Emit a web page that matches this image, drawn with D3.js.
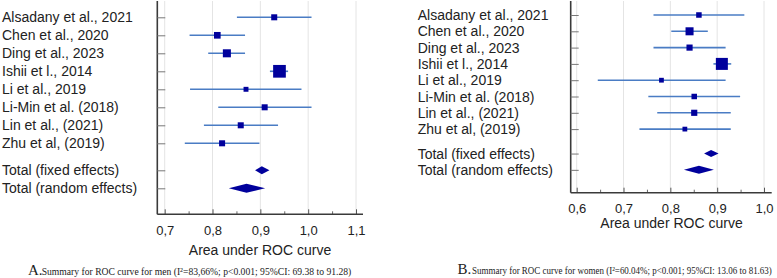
<!DOCTYPE html>
<html><head><meta charset="utf-8">
<script src="https://cdn.jsdelivr.net/npm/d3@7"></script>
<style>
html,body{margin:0;padding:0;background:#fff;}
svg{display:block;}
</style></head>
<body>
<svg id="chart" width="777" height="278"></svg>
<script>
// ---- data ----
const studies = ["Alsadany et al., 2021","Chen et al., 2020","Ding et al., 2023","Ishii et l., 2014","Li et al., 2019","Li-Min et al. (2018)","Lin et al., (2021)","Zhu et al, (2019)"];
const totals = ["Total (fixed effects)","Total (random effects)"];

const menAUC   = [0.929,0.810,0.830,0.940,0.870,0.909,0.859,0.820];
const menLow   = [0.851,0.752,0.791,0.920,0.753,0.812,0.782,0.742];
const menHigh  = [1.007,0.868,0.868,0.958,0.986,1.007,0.937,0.898];
const menWeight= [9,11,16,40,6,9,9,9];
const menTotAUC = [0.903,0.871];
const menTotLow = [0.889,0.834];
const menTotHigh= [0.919,0.910];
const menTicks = [0.7,0.8,0.9,1.0,1.1];

const womenAUC   = [0.861,0.841,0.841,0.910,0.781,0.851,0.851,0.831];
const womenLow   = [0.764,0.802,0.764,0.892,0.645,0.753,0.772,0.734];
const womenHigh  = [0.958,0.880,0.918,0.930,0.918,0.949,0.929,0.929];
const womenWeight= [8,17,10,38,6,8,10,6];
const womenTotAUC = [0.887,0.861];
const womenTotLow = [0.872,0.829];
const womenTotHigh= [0.903,0.893];
const womenTicks = [0.6,0.7,0.8,0.9,1.0];

const captionA = "Summary for ROC curve for men (I\u00B2=83,66%; p<0.001; 95%CI: 69.38 to 91.28)";
const captionB = "Summary for ROC curve for women (I\u00B2=60.04%; p<0.001; 95%CI: 13.06 to 81.63)";
const axisTitle = "Area under ROC curve";

// ---- drawing ----
const svg = d3.select("#chart");
const fmt = d => d.toFixed(1).replace(".", ",");
const lineColor = "#4a7cc4", markColor = "#00009c", axisColor = "#3a3a3a";

function panel(cfg){
  const g = svg.append("g");
  const x = d3.scaleLinear().domain([cfg.ticks[0], cfg.ticks[cfg.ticks.length-1]]).range(cfg.xRange);
  const rowPos = studies.map((d,i)=>i).concat([studies.length+0.5, studies.length+1.5]);
  const y = d3.scaleLinear().domain([0,1]).range([cfg.y0, cfg.y0+cfg.step]);
  const size = d3.scaleSqrt().domain([0, d3.max(cfg.weight)]).range([0, cfg.maxSize]);

  // grid
  g.selectAll(".grid").data(cfg.ticks).join("line")
    .attr("x1", d=>x(d)).attr("x2", d=>x(d))
    .attr("y1", cfg.top).attr("y2", cfg.bottom)
    .attr("stroke", "#e4e4e4").attr("stroke-width", 1);

  // x axis (major)
  const ax = g.append("g").attr("transform", `translate(0,${cfg.bottom})`)
    .call(d3.axisBottom(x).tickValues(cfg.ticks).tickFormat(fmt).tickSizeInner(-5).tickSizeOuter(0).tickPadding(11));
  ax.select(".domain").remove();
  ax.selectAll(".tick line").attr("stroke", "#555");
  ax.selectAll("text").attr("font-family","Liberation Sans, Arial, sans-serif").attr("font-size", 13).attr("fill","#222");
  // minor ticks
  const minor = cfg.ticks.slice(0,-1).map(t => t + 0.05);
  const mx = g.append("g").attr("transform", `translate(0,${cfg.bottom})`)
    .call(d3.axisBottom(x).tickValues(minor).tickFormat("").tickSizeInner(-3).tickSizeOuter(0));
  mx.select(".domain").remove();
  mx.selectAll(".tick line").attr("stroke", "#666");

  // axis lines
  g.append("line").attr("x1", cfg.axisX).attr("x2", cfg.axisEnd).attr("y1", cfg.bottom).attr("y2", cfg.bottom)
    .attr("stroke", axisColor).attr("stroke-width", 1.6);
  g.append("line").attr("x1", cfg.axisX).attr("x2", cfg.axisX).attr("y1", cfg.top).attr("y2", cfg.bottom)
    .attr("stroke", axisColor).attr("stroke-width", 1.6);

  // y axis ticks
  const ya = g.append("g").attr("transform", `translate(${cfg.axisX},0)`)
    .call(d3.axisLeft(y).tickValues(rowPos).tickFormat("").tickSizeInner(-8).tickSizeOuter(0));
  ya.select(".domain").remove();
  ya.selectAll(".tick line").attr("stroke", "#777");

  // labels
  const labels = studies.concat(totals);
  g.selectAll(".lab").data(labels).join("text")
    .attr("x", cfg.labelX).attr("y", (d,i)=>y(rowPos[i])).attr("dy","0.36em")
    .attr("font-family","Liberation Sans, Arial, sans-serif").attr("font-size",14).attr("fill","#222")
    .text(d=>d);

  // CI lines
  g.selectAll(".ci").data(studies).join("line")
    .attr("x1",(d,i)=>x(cfg.low[i])).attr("x2",(d,i)=>x(cfg.high[i]))
    .attr("y1",(d,i)=>y(i)).attr("y2",(d,i)=>y(i))
    .attr("stroke", lineColor).attr("stroke-width", 1.6);
  // squares
  g.selectAll(".sq").data(studies).join("rect")
    .attr("x",(d,i)=>x(cfg.auc[i]) - size(cfg.weight[i])/2)
    .attr("y",(d,i)=>y(i) - size(cfg.weight[i])/2)
    .attr("width",(d,i)=>size(cfg.weight[i]))
    .attr("height",(d,i)=>size(cfg.weight[i]))
    .attr("fill", markColor);
  // diamonds
  g.selectAll(".dia").data(totals).join("path")
    .attr("d",(d,i)=>{
      const yy = y(rowPos[studies.length+i]);
      const h = cfg.diaH[i]/2;
      return `M${x(cfg.totLow[i])},${yy}L${x(cfg.totAUC[i])},${yy-h}L${x(cfg.totHigh[i])},${yy}L${x(cfg.totAUC[i])},${yy+h}Z`;
    })
    .attr("fill", markColor);

  // axis title
  g.append("text").attr("x", cfg.titleX).attr("y", cfg.titleY).attr("text-anchor","middle")
    .attr("font-family","Liberation Sans, Arial, sans-serif").attr("font-size",14).attr("fill","#222")
    .text(axisTitle);

  // caption
  g.append("text").attr("x", cfg.capX).attr("y", cfg.capY)
    .attr("font-family","Liberation Serif, Times New Roman, serif").attr("font-size",15).attr("fill","#222")
    .text(cfg.capLetter);
  const ct = g.append("text").attr("x", 0).attr("y", 0)
    .attr("font-family","Liberation Serif, Times New Roman, serif").attr("font-size",10.5).attr("fill","#222")
    .text(cfg.caption);
  const natural = ct.node().getComputedTextLength();
  const sx = cfg.capLen / natural;
  ct.attr("transform", `translate(${cfg.capTextX},${cfg.capY}) scale(${sx},1)`);
}

panel({
  ticks: menTicks, xRange:[164.7,356], axisX:157.3, axisEnd:363, top:1, bottom:214.3,
  y0:17.3, step:18, labelX:2,
  auc:menAUC, low:menLow, high:menHigh, weight:menWeight, maxSize:12.7,
  totAUC:menTotAUC, totLow:menTotLow, totHigh:menTotHigh, diaH:[8,9],
  titleX:260, titleY:255, capX:28, capTextX:41.7, capY:274.5, capLen:310,
  capLetter:"A.", caption:captionA
});
panel({
  ticks: womenTicks, xRange:[576.7,764], axisX:570.7, axisEnd:771.7, top:1, bottom:192.7,
  y0:15, step:16.3, labelX:417.7,
  auc:womenAUC, low:womenLow, high:womenHigh, weight:womenWeight, maxSize:12,
  totAUC:womenTotAUC, totLow:womenTotLow, totHigh:womenTotHigh, diaH:[7,8],
  titleX:671.5, titleY:228, capX:457.5, capTextX:472, capY:273.5, capLen:300,
  capLetter:"B.", caption:captionB
});
</script>
</body></html>
